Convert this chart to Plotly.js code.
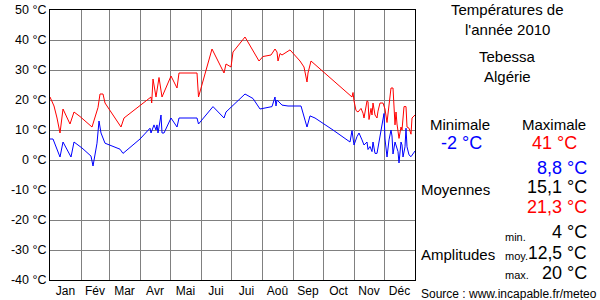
<!DOCTYPE html>
<html>
<head>
<meta charset="utf-8">
<script src="https://cdn.plot.ly/plotly-3.0.1.min.js"></script>
<style>html,body{margin:0;padding:0;background:#fff;}#chart{width:600px;height:300px;}</style>
</head>
<body>
<div id="chart"></div>
<script>
// Month boundaries (day of year) and labels
const monthStarts = [0, 31, 59, 90, 120, 151, 181, 212, 243, 273, 304, 334, 365];
const monthLabels = ["Jan", "Fév", "Mar", "Avr", "Mai", "Jui", "Jui", "Aoû", "Sep", "Oct", "Nov", "Déc"];
const yTickVals = [-40, -30, -20, -10, 0, 10, 20, 30, 40, 50];
const yTickText = ["-40 °C", "-30 °C", "-20 °C", "-10 °C", "0 °C", "10 °C", "20 °C", "30 °C", "40 °C", "50 °C"];

// Maximum temperatures (day of year, °C)
const maxDays = [0, 4, 7, 10, 13, 20, 24, 30, 42, 48, 50, 53, 55, 71, 74, 90, 100, 101, 101.7, 103, 106, 109, 112, 121, 127, 129, 147, 148.5, 162, 174, 176, 181, 183, 195, 209, 213, 221, 225, 227, 228, 230, 232, 240, 243, 250, 254, 256, 257, 258, 261, 302, 303, 304, 306, 308, 311, 313, 314, 317, 318, 319, 321, 322, 323, 325, 327, 328, 330, 333, 335, 337, 338, 341, 343, 344, 345, 346, 347, 349, 351, 352, 354, 356, 357, 359, 361, 362, 365];
const maxTemps = [21, 18, 14, 9, 17, 12, 16, 14.5, 11, 17.5, 22, 22, 19, 11, 14, 18, 20.5, 21, 19, 27, 21, 27.5, 21, 28, 24, 29, 29, 21, 37, 29, 32, 31, 36, 41, 33, 34.5, 35, 37, 36, 33, 35.5, 35, 36.7, 35.6, 33, 31, 28, 26, 29, 33, 21, 22.5, 19.7, 16.5, 16, 17.2, 15.6, 14, 19.7, 19.5, 13.5, 17.2, 15, 19, 15, 14, 16.3, 19, 19, 17, 12.5, 16, 24, 24, 16, 11.7, 16, 12, 7.2, 11, 10, 17.8, 17.8, 11, 10.6, 8.6, 14, 15];

// Minimum temperatures (day of year, °C)
const minDays = [0, 3, 10, 12, 13, 21, 24, 32, 41, 43, 47, 49, 51, 55, 70, 73, 90, 100, 101, 104, 106, 107, 108, 111, 112, 114, 121, 127, 129, 147, 148.5, 163, 174, 176, 182, 195, 203, 210, 222, 225, 226, 227, 230, 232, 238, 251, 255, 257, 260, 265, 283, 300, 302, 303, 304, 307, 309, 312, 314, 317, 318, 320, 322, 323, 325, 327, 330, 333, 334, 335, 337, 339, 341, 342, 343, 345, 347, 348, 349, 351, 352, 353, 355, 356, 357, 359, 361, 363, 365];
const minTemps = [7, 7, 1, 5, 6, 1, 6, 4, 1.3, -2, 5.6, 13, 9, 5.6, 3.6, 2.2, 7, 10.6, 9, 11.7, 10, 11.7, 9, 15, 9, 9, 14, 11, 14, 14, 12, 17.8, 14, 16, 17.8, 22, 20.5, 17, 17.8, 21, 18, 20, 19, 18.3, 18, 18, 13.3, 11, 14.7, 14, 10, 6, 9.8, 6, 5, 7.8, 9, 6.7, 5, 6, 3.5, 4.5, 2.8, 6, 2.2, 2.2, 7.8, 14, 15.5, 7, 1, 6.7, 10, 8, 2, 6, 3.3, 2.8, -1, 6, 5, 1, 4.4, 10.6, 4.4, 1.7, 1.1, 2.2, 3];

// Summary panel values
const titleLines = ["Températures de", "l'année 2010"];
const placeLines = ["Tebessa", "Algérie"];
const extremeLabels = ["Minimale", "Maximale"];
const extremeValues = ["-2 °C", "41 °C"];
const meanLabel = "Moyennes";
const meanValues = ["8,8 °C", "15,1 °C", "21,3 °C"];
const amplitudeLabel = "Amplitudes";
const amplitudeSubLabels = ["min.", "moy.", "max."];
const amplitudeValues = ["4 °C", "12,5 °C", "20 °C"];
const sourceText = "Source : www.incapable.fr/meteo";

const FONT = "Liberation Sans, Arial, sans-serif";
const L = 50, R = 415, T = 10, B = 280;
const W = 600, H = 300;
function ann(text, px, py, size, color, xanchor) {
  return {
    text: text, xref: "paper", yref: "paper",
    x: (px - L) / (R - L), y: (B - py) / (B - T),
    xanchor: xanchor || "center", yanchor: "middle",
    showarrow: false, font: {family: FONT, size: size, color: color || "#000"}
  };
}

const monthCenters = monthStarts.slice(0, 12).map((d, i) => (d + monthStarts[i + 1]) / 2);

const traces = [
  {x: maxDays, y: maxTemps, type: "scatter", mode: "lines", line: {color: "#ff0000", width: 1}, hoverinfo: "skip"},
  {x: minDays, y: minTemps, type: "scatter", mode: "lines", line: {color: "#0000ff", width: 1}, hoverinfo: "skip"}
];

const annotations = [
  ann(titleLines[0], 507, 9.5, 15),
  ann(titleLines[1], 507, 29.5, 15),
  ann(placeLines[0], 507, 57, 15),
  ann(placeLines[1], 507, 77, 15),
  ann(extremeLabels[0], 460, 124, 15),
  ann(extremeLabels[1], 554, 124, 15),
  ann(extremeValues[0], 461, 143, 18, "#0000ff"),
  ann(extremeValues[1], 554, 143, 18, "#ff0000"),
  ann(meanValues[0], 589, 168, 18, "#0000ff", "right"),
  ann(meanLabel, 419, 189, 15, "#000", "left"),
  ann(meanValues[1], 589, 187, 18, "#000", "right"),
  ann(meanValues[2], 589, 207, 18, "#ff0000", "right"),
  ann(amplitudeSubLabels[0], 503, 237, 11, "#000", "left"),
  ann(amplitudeValues[0], 589, 232, 18, "#000", "right"),
  ann(amplitudeLabel, 419, 254, 15, "#000", "left"),
  ann(amplitudeSubLabels[1], 503, 256, 11, "#000", "left"),
  ann(amplitudeValues[1], 589, 253, 17.5, "#000", "right"),
  ann(amplitudeSubLabels[2], 503, 275, 11, "#000", "left"),
  ann(amplitudeValues[2], 589, 273, 18, "#000", "right"),
  ann(sourceText, 419, 294, 12, "#000", "left")
];

const layout = {
  width: W, height: H,
  margin: {l: L, r: W - R, t: T, b: H - B, pad: 0},
  paper_bgcolor: "#fff", plot_bgcolor: "#fff",
  showlegend: false,
  font: {family: FONT, size: 12, color: "#000"},
  xaxis: {
    range: [0, 365], tickmode: "array", tickvals: monthCenters, ticktext: monthLabels,
    showgrid: false, zeroline: false, ticks: "",
    showline: true, mirror: true, linecolor: "#000", linewidth: 1,
    tickfont: {family: FONT, size: 12, color: "#000"},
    minor: {tickmode: "array", tickvals: monthStarts, showgrid: true, gridcolor: "#808080", gridwidth: 1, ticks: ""},
    fixedrange: true
  },
  yaxis: {
    range: [-40, 50], tickmode: "array", tickvals: yTickVals, ticktext: yTickText,
    showgrid: true, gridcolor: "#808080", gridwidth: 1, zeroline: false, ticks: "",
    showline: true, mirror: true, linecolor: "#000", linewidth: 1,
    tickfont: {family: FONT, size: 12.5, color: "#000"},
    fixedrange: true
  },
  annotations: annotations
};

Plotly.newPlot("chart", traces, layout, {staticPlot: true, displayModeBar: false});
</script>
</body>
</html>
